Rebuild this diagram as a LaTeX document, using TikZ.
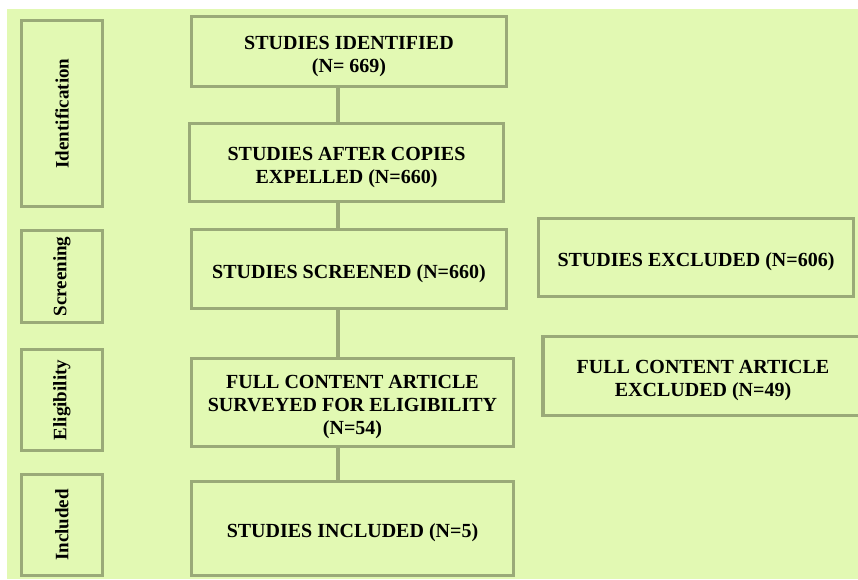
\documentclass[tikz,border=0pt]{standalone}
\usepackage{fontspec}
\setmainfont{Liberation Serif}
\definecolor{bgc}{RGB}{226,249,179}
\definecolor{bordc}{RGB}{154,170,120}
\newcommand{\lowtext}[1]{\raisebox{-4.5pt}[\height][\depth]{\begin{tabular}{@{}c@{}}#1\end{tabular}}}
\tikzset{
  box/.style={draw=bordc, line width=3.2pt, inner sep=0pt, outer sep=0pt, align=center,
    font=\fontsize{20}{23}\selectfont\bfseries},
  phase/.style={draw=bordc, line width=3.2pt, inner sep=0pt, outer sep=0pt, rotate=90,
    minimum height=81pt, font=\fontsize{19}{22}\selectfont\bfseries},
  link/.style={draw=bordc, line width=3.4pt}
}
\begin{document}
\begin{tikzpicture}[x=1pt,y=-1pt]
\useasboundingbox (0,0) rectangle (858,579);
\clip (0,0) rectangle (858,579);
\fill[bgc] (7,9) rectangle (858,579);
% phase boxes
\node[phase, minimum width=186pt] (idf) at (62,113.5) {Identification};
\node[phase, minimum width=92pt] (scr) at (62,276.5) {Screening};
\node[phase, minimum width=101pt] (eli) at (62,400) {Eligibility};
\node[phase, minimum width=101pt] (inc) at (62,525) {Included};
% main boxes
\node[box, minimum width=315pt, minimum height=70pt] (b1) at (349,51.5) {\lowtext{STUDIES IDENTIFIED\\(N= 669)}};
\node[box, minimum width=314pt, minimum height=78pt] (b2) at (346.5,162.5) {\lowtext{STUDIES AFTER COPIES\\EXPELLED (N=660)}};
\node[box, minimum width=315pt, minimum height=79pt] (b3) at (349,269) {\lowtext{STUDIES SCREENED (N=660)}};
\node[box, minimum width=322pt, minimum height=88pt] (b4) at (352.5,402.5) {\lowtext{FULL CONTENT ARTICLE\\SURVEYED FOR ELIGIBILITY\\(N=54)}};
\node[box, minimum width=322pt, minimum height=94pt] (b5) at (352.5,528.5) {\lowtext{STUDIES INCLUDED (N=5)}};
% excluded boxes
\node[box, minimum width=315pt, minimum height=78pt] (e1) at (696,257.5) {\lowtext{STUDIES EXCLUDED (N=606)}};
\node[box, minimum width=332pt, minimum height=79pt] (e2) at (709,376) {\lowtext{FULL CONTENT ARTICLE\\EXCLUDED (N=49)}\hspace*{12pt}};
% connectors
\coordinate (spine) at (338,0);
\draw[link] (b1.south -| spine) -- (b2.north -| spine);
\draw[link] (b2.south -| spine) -- (b3.north -| spine);
\draw[link] (b3.south -| spine) -- (b4.north -| spine);
\draw[link] (b4.south -| spine) -- (b5.north -| spine);
\end{tikzpicture}
\end{document}
